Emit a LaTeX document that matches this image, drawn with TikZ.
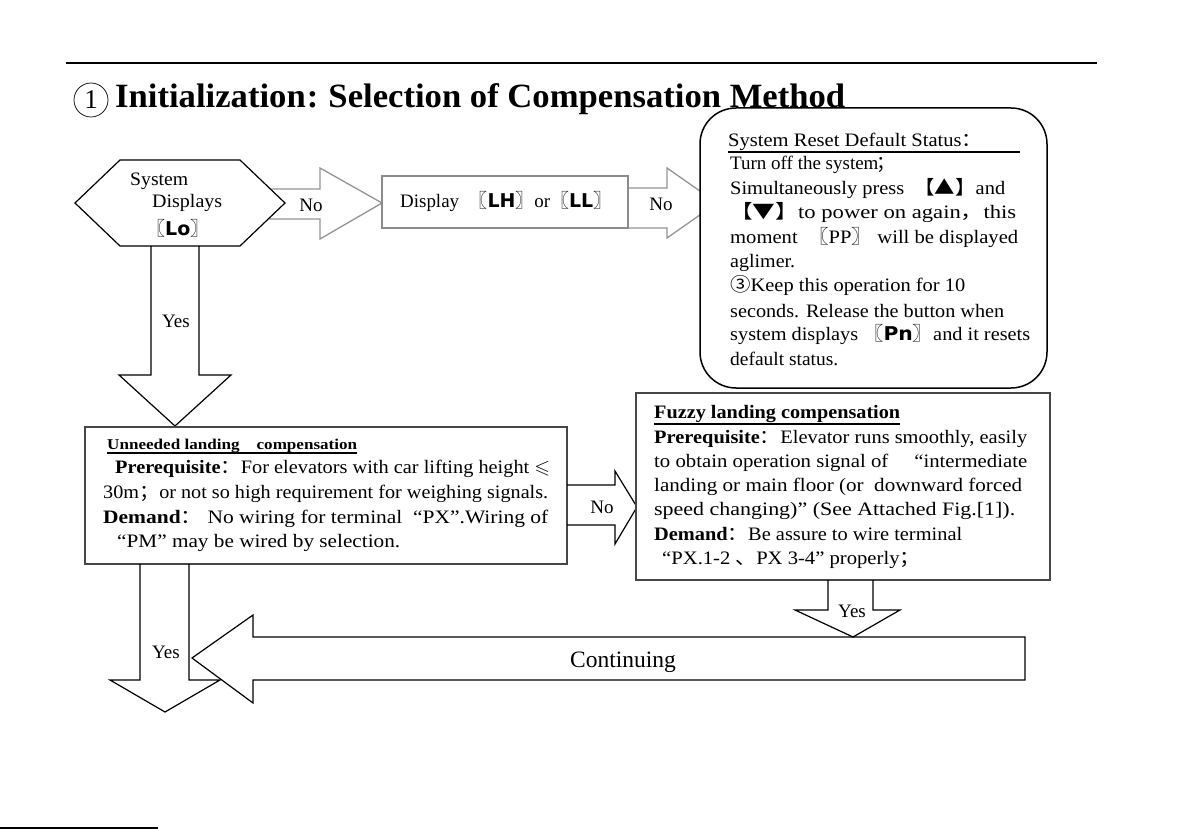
\documentclass[tikz,border=0pt]{standalone}
\usepackage{fontspec}
\usepackage{amssymb}
\usepackage{graphicx}
\setmainfont{Liberation Serif}
\newfontfamily\cjkf{Noto Sans CJK SC}
\newfontfamily\djv{DejaVu Sans}
\newcommand\lbk{{\cjkf 〖}}
\newcommand\rbk{{\cjkf 〗}}
\newcommand\seg[1]{{\djv\bfseries #1}}
\newcommand\fcolon{{\cjkf ：}}
\newcommand\fsemi{{\cjkf ；}}
\newcommand\fcomma{{\cjkf ，}}
\newcommand\fdun{{\cjkf 、}}
\newcommand\fitw[2]{\resizebox{#1}{\height}{#2}}
\begin{document}
\begin{tikzpicture}[x=1pt,y=-1pt,
  boxline/.style={draw=black!72, line width=1.8pt},
  garrow/.style={draw=black!42, line width=1.3pt, fill=white},
  barrow/.style={draw=black, line width=1.2pt},
  txt/.style={anchor=base west, inner sep=0pt, font=\fontsize{19}{22}\selectfont},
  lbl/.style={inner sep=0pt, font=\fontsize{19}{22}\selectfont},
  uline/.style={line width=2.2pt}]
\useasboundingbox (0,0) rectangle (1192,829);
% rules
\draw[line width=2pt] (66,63) -- (1097,63);
\draw[line width=1.2pt] (0,828) -- (158,828);
% title
\node[circle, draw, line width=0.7pt, minimum size=34pt, inner sep=0pt,
      font=\fontsize{27}{30}\selectfont] (num) at (91,100) {1};
\node[anchor=base west, inner sep=0pt, font=\fontsize{34}{36}\selectfont\bfseries]
  (title) at (115,108) {\fitw{730pt}{Initialization\hspace{1pt}:\hspace{10pt}Selection of Compensation Method}};

% gray arrow 1
\draw[garrow] (270,189) -- (320,189) -- (320,168) -- (382,203) -- (320,239) -- (320,219) -- (270,219) -- cycle;
\node[lbl] (no1) at (311,205) {No};
% gray arrow 2
\draw[garrow] (628,188) -- (667,188) -- (667,168) -- (717,203) -- (667,238) -- (667,228) -- (628,228) -- cycle;
\node[lbl] (no2) at (661,204) {No};

% hexagon
\draw[line width=1.2pt, fill=white] (75,203) -- (120,160) -- (240,160) -- (285,203) -- (240,246) -- (120,246) -- cycle;
\node[txt] (h1) at (130,186) {\fitw{58pt}{System}};
\node[txt] (h2) at (152,208) {\fitw{70pt}{Displays}};
\node[txt] (h3) at (146,236) {\lbk\seg{Lo}\rbk};

% display box
\draw[draw=black!45, line width=1.5pt, fill=white] (382,176) rectangle (628,228);
\node[txt] (disp) at (400,208) {\fitw{212pt}{Display \ \lbk\seg{LH}\rbk or\lbk\seg{LL}\rbk}};

% yes arrow from hexagon
\draw[barrow] (151,246) -- (151,375) -- (119,375) -- (175,426) -- (231,375) -- (199,375) -- (199,246);
\node[lbl] (yes1) at (176,321) {Yes};

% reset box
\draw[line width=1.5pt, fill=white, rounded corners=36pt] (700,108) rectangle (1047,388);
\node[txt] (r0) at (728,147) {\fitw{254pt}{System Reset Default Status\fcolon}};
\draw[uline] (728,152) -- (1020,152);
\node[txt] (r1) at (730,170) {Turn off the system\hspace{-2pt}\fsemi};
\node[txt] (r2) at (730,195) {\fitw{275pt}{Simultaneously press \ {\cjkf 【▲】}and}};
\node[txt] (r3) at (730,219) {\fitw{286pt}{{\cjkf 【▼】}to power on again\fcomma this}};
\node[txt] (r4) at (730,244) {\fitw{288pt}{moment \ \lbk PP\rbk\ will be displayed}};
\node[txt] (r5) at (730,268) {\fitw{65pt}{aglimer.}};
\node[txt] (r6) at (730,292) {\fitw{235pt}{{\cjkf ③}Keep this operation for 10}};
\node[txt] (r7) at (730,317) {\fitw{274pt}{seconds. Release the button when}};
\node[txt] (r8) at (730,341) {\fitw{300pt}{system displays \lbk\seg{Pn}\rbk and it resets}};
\node[txt] (r9) at (730,365) {\fitw{108pt}{default status.}};

% unneeded box
\draw[boxline, fill=white] (85,427) rectangle (567,564);
\node[txt, font=\fontsize{15}{17}\selectfont\bfseries] (u0) at (107,449) {\fitw{250pt}{Unneeded landing\quad compensation}};
\draw[line width=1.8pt] (107,453) -- (357,453);
\node[txt] (u1) at (115,473) {\fitw{435pt}{\textbf{Prerequisite}\fcolon For elevators with car lifting height $\leqslant$}};
\node[txt] (u2) at (103,498) {\fitw{445pt}{30m\fsemi or not so high requirement for weighing signals.}};
\node[txt] (u3) at (103,523) {\fitw{445pt}{\textbf{Demand}\fcolon\ No wiring for terminal \ “PX”.Wiring of}};
\node[txt] (u4) at (117,547) {\fitw{283pt}{“PM” may be wired by selection.}};

% no arrow 3
\draw[barrow] (567,485) -- (615,485) -- (615,471) -- (637,507) -- (615,544) -- (615,525) -- (567,525);
\node[lbl] (no3) at (602,507) {No};

% fuzzy box
\draw[boxline, fill=white] (636,393) rectangle (1050,580);
\node[txt, font=\fontsize{19}{22}\selectfont\bfseries] (f0) at (654,418) {\fitw{246pt}{Fuzzy landing compensation}};
\draw[line width=2.6pt] (654,424) -- (900,424);
\node[txt] (f1) at (654,443) {\fitw{373pt}{\textbf{Prerequisite}\fcolon Elevator runs smoothly, easily}};
\node[txt] (f2) at (654,467) {\fitw{373pt}{to obtain operation signal of \quad “intermediate}};
\node[txt] (f3) at (654,491) {\fitw{368pt}{landing or main floor (or \ downward forced}};
\node[txt] (f4) at (654,515) {\fitw{361pt}{speed changing)” (See Attached Fig.[1]).}};
\node[txt] (f5) at (654,540) {\fitw{308pt}{\textbf{Demand}\fcolon Be assure to wire terminal}};
\node[txt] (f6) at (662,564) {\fitw{258pt}{“PX.1-2 \fdun PX 3-4” properly\fsemi}};

% yes arrow from fuzzy
\draw[barrow] (828,580) -- (828,610) -- (795,610) -- (853,637) -- (900,610) -- (873,610) -- (873,580);
\node[lbl] (yes2) at (852,611) {Yes};

% yes arrow down-left
\draw[barrow] (140,564) -- (140,680) -- (110,680) -- (165,712) -- (220,680) -- (189,680) -- (189,564);
\node[lbl] (yes3) at (166,652) {Yes};

% continuing arrow
\draw[barrow] (1025,637) -- (253,637) -- (253,615) -- (192,658) -- (253,703) -- (253,680) -- (1025,680) -- cycle;
\node[inner sep=0pt, font=\fontsize{23.5}{26}\selectfont] (cont) at (623,662) {Continuing};
\end{tikzpicture}
\end{document}
